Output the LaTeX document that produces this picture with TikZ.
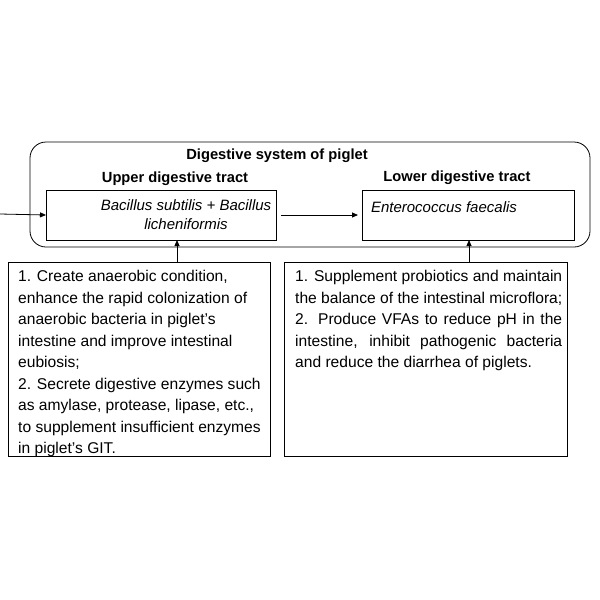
\documentclass[tikz,border=0pt]{standalone}
\usepackage{fontspec}
\setmainfont{Liberation Sans}
\usetikzlibrary{arrows.meta}
\newcommand{\jl}[1]{\hbox to 267pt{#1}}
\begin{document}
\begin{tikzpicture}[x=1pt,y=-1pt,
  box/.style={draw,line width=0.8pt,inner sep=0pt,outer sep=0pt},
  arr/.style={-{Triangle[length=6pt,width=5pt]},line width=0.8pt},
  txt/.style={font=\fontsize{15.6}{21.5}\selectfont}]
\useasboundingbox (0,0) rectangle (600,600);
\draw[line width=0.8pt,rounded corners=16pt] (30,142) rectangle (590,247);
\node[font=\fontsize{14.7}{16}\selectfont\bfseries] (title) at (277,156) {Digestive system of piglet};
\node[font=\fontsize{14.7}{16}\selectfont\bfseries] (ut) at (175,179) {Upper digestive tract};
\node[font=\fontsize{14.7}{16}\selectfont\bfseries] (lt) at (457,178) {Lower digestive tract};
\node[box,minimum width=230pt,minimum height=50pt,anchor=north west] (b1) at (46,190) {};
\node[align=center,font=\fontsize{15}{19}\selectfont\itshape] at (186,215) {Bacillus subtilis + Bacillus\\licheniformis};
\node[box,minimum width=212pt,minimum height=50pt,anchor=north west] (b2) at (362,190) {};
\node[anchor=north,font=\fontsize{15}{16}\selectfont\itshape] at (444,198) {Enterococcus faecalis};
\coordinate (in) at (0,214);
\draw[arr] (in) -- (b1.west);
\draw[arr] ([xshift=5pt]b1.east) -- ([xshift=-4pt]b2.west);
\node[box,minimum width=262pt,minimum height=194pt,anchor=north west] (l1) at (8,262) {};
\node[txt,anchor=north west,align=left,inner sep=0pt] at (18,270) {1. Create anaerobic condition,\\enhance the rapid colonization of\\anaerobic bacteria in piglet’s\\intestine and improve intestinal\\eubiosis;\\2. Secrete digestive enzymes such\\as amylase, protease, lipase, etc.,\\to supplement insufficient enzymes\\in piglet’s GIT.};
\node[box,minimum width=283pt,minimum height=194pt,anchor=north west] (l2) at (284,262) {};
\node[txt,anchor=north west,align=left,inner sep=0pt] at (295,270) {\jl{1. Supplement probiotics and maintain}\\the balance of the intestinal microflora;\\\jl{2. Produce VFAs to reduce pH in the}\\\jl{intestine, inhibit pathogenic bacteria}\\and reduce the diarrhea of piglets.};
\draw[arr] (l1.north -| 177,0) -- (b1.south -| 177,0);
\draw[arr] (l2.north -| 469,0) -- (b2.south -| 469,0);
\end{tikzpicture}
\end{document}
